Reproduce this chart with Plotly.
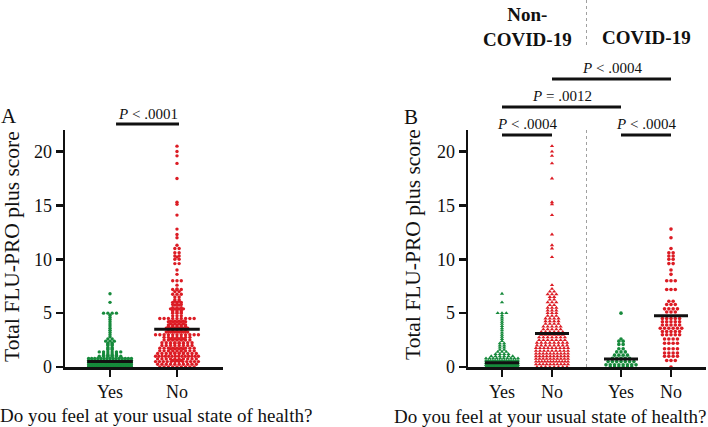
import numpy as np
import plotly.graph_objects as go

# ---------------- data ----------------
categories = ["Yes", "No", "Yes", "No"]
group_titles = ["Non-<br>COVID-19", "COVID-19"]
y_ticks = [0, 5, 10, 15, 20]

# Non-COVID-19, answered "Yes"
noncovid_yes_scores = [0.0, 0.2, 0.4, 0.6, 0.8, 1.0, 1.2, 1.4, 1.6, 1.8, 2.0, 2.2, 2.4, 2.6,
                       2.8, 3.0, 3.2, 3.4, 3.6, 3.8, 4.0, 4.2, 4.4, 4.6, 4.8, 5.0, 6.0, 6.8]
noncovid_yes_counts = [60, 40, 25, 15, 10, 6, 4, 3, 2, 2, 2, 2, 1, 1,
                       1, 1, 1, 1, 1, 1, 1, 1, 1, 1, 1, 3, 1, 1]

# Non-COVID-19, answered "No"
noncovid_no_scores = [0.0, 0.25, 0.5, 0.75, 1.0, 1.25, 1.5, 1.75, 2.0, 2.25, 2.5, 2.75, 3.0, 3.25,
                      3.5, 3.75, 4.0, 4.25, 4.5, 4.75, 5.0, 5.25, 5.5, 5.75, 6.0, 6.25, 6.5, 6.75,
                      7.0, 7.25, 7.6, 10.2, 11.0, 11.3, 12.3, 14.1, 15.1, 15.3, 17.5, 18.9, 19.6,
                      20.0, 20.5]
noncovid_no_counts = [8, 10, 12, 10, 10, 10, 9, 9, 8, 8, 7, 7, 6, 6,
                      5, 5, 4, 4, 4, 3, 3, 3, 3, 2, 3, 2, 2, 3,
                      2, 1, 1, 1, 1, 1, 1, 1, 1, 1, 1, 1, 1,
                      1, 1]

# COVID-19, answered "Yes"
covid_yes_scores = [0.0, 0.2, 0.5, 0.8, 1.1, 1.4, 1.7, 2.1, 2.4, 2.6, 5.0]
covid_yes_counts = [6, 8, 7, 5, 4, 3, 2, 2, 2, 1, 1]

# COVID-19, answered "No"
covid_no_scores = [0.0, 0.6, 1.0, 1.3, 1.7, 2.2, 2.6, 3.0, 3.3, 3.6, 3.9, 4.2, 4.5, 5.1,
                   5.4, 5.8, 6.1, 7.2, 8.0, 8.6, 9.0, 9.6, 10.0, 10.3, 10.6, 11.0, 12.0, 12.8]
covid_no_counts = [1, 3, 4, 4, 4, 4, 4, 5, 5, 6, 5, 5, 5, 3,
                   4, 3, 2, 3, 3, 1, 1, 2, 2, 2, 2, 1, 1, 1]

# medians (horizontal bars)
medians_A = [0.5, 3.5]
medians_B = [0.4, 3.1, 0.75, 4.75]

# significance comparisons in panel B: (from, to, label, level)
comparisons_B = [
    (0, 1, "<i>P</i> < .0004", 0),
    (2, 3, "<i>P</i> < .0004", 0),
    (0, 2, "<i>P</i> = .0012", 1),
    (1, 3, "<i>P</i> < .0004", 2),
]
comparison_A_label = "<i>P</i> < .0001"

# ---------------- styling ----------------
W, H = 708, 427
FONT = "Liberation Serif"
GREEN = "#178a3c"
RED = "#dc1c24"
INK = "#111111"

pos_A = [0.0, 1.0]
pos_B = [0.0, 1.0, 2.38, 3.38]


def merge(*groups):
    d = {}
    for sc, ct in groups:
        for v, n in zip(sc, ct):
            k = round(v, 3)
            d[k] = d.get(k, 0) + n
    keys = sorted(d)
    return keys, [d[k] for k in keys]


def swarm(scores, counts, step, cap):
    xs, ys = [], []
    for v, n in zip(scores, counts):
        s = step if n <= 1 else min(step, 2 * cap / (n - 1))
        for i in range(n):
            xs.append((i - (n - 1) / 2) * s)
            ys.append(v)
    return np.array(xs), np.array(ys)


fig = go.Figure()

# ---------- Panel A ----------
A_yes = merge((noncovid_yes_scores, noncovid_yes_counts), (covid_yes_scores, covid_yes_counts))
A_no = merge((noncovid_no_scores, noncovid_no_counts), (covid_no_scores, covid_no_counts))
stepA = 4.3 / 67.0
for grp, p, col in [(A_yes, pos_A[0], GREEN), (A_no, pos_A[1], RED)]:
    dx, yy = swarm(grp[0], grp[1], stepA, 0.32)
    fig.add_trace(go.Scatter(x=p + dx, y=yy, mode="markers", xaxis="x", yaxis="y",
                             marker=dict(color=col, size=3.4, line=dict(width=0)),
                             showlegend=False, hoverinfo="skip"))
for p, m in zip(pos_A, medians_A):
    fig.add_trace(go.Scatter(x=[p - 0.34, p + 0.34], y=[m, m], mode="lines", xaxis="x", yaxis="y",
                             line=dict(color=INK, width=3), showlegend=False, hoverinfo="skip"))

# ---------- Panel B ----------
stepB = 4.3 / 50.0
B_groups = [
    (noncovid_yes_scores, noncovid_yes_counts, GREEN, "triangle-up", 3.8),
    (noncovid_no_scores, noncovid_no_counts, RED, "triangle-up", 3.8),
    (covid_yes_scores, covid_yes_counts, GREEN, "circle", 3.6),
    (covid_no_scores, covid_no_counts, RED, "circle", 3.6),
]
for (sc, ct, col, sym, sz), p in zip(B_groups, pos_B):
    dx, yy = swarm(sc, ct, stepB, 0.32)
    fig.add_trace(go.Scatter(x=p + dx, y=yy, mode="markers", xaxis="x2", yaxis="y2",
                             marker=dict(color=col, size=sz, symbol=sym, line=dict(width=0)),
                             showlegend=False, hoverinfo="skip"))
for p, m in zip(pos_B, medians_B):
    fig.add_trace(go.Scatter(x=[p - 0.34, p + 0.34], y=[m, m], mode="lines", xaxis="x2", yaxis="y2",
                             line=dict(color=INK, width=3), showlegend=False, hoverinfo="skip"))

# ---------- axes ----------
def px_x(p):
    return p / W


def px_y(p):
    return 1 - p / H


axis_common = dict(showline=True, linecolor=INK, linewidth=2.5, ticks="outside", ticklen=7,
                   tickwidth=2.5, tickcolor=INK, showgrid=False, zeroline=False, automargin=False,
                   tickfont=dict(family=FONT, size=18, color=INK), fixedrange=True)

fig.update_layout(
    xaxis=dict(domain=[px_x(65), px_x(223)], range=[-0.672, 1.687], tickvals=pos_A,
               ticktext=categories[:2], anchor="y", **axis_common),
    yaxis=dict(domain=[1 - 367 / H, 1 - 130 / H], range=[0, 22], tickvals=y_ticks,
               anchor="x", **axis_common),
    xaxis2=dict(domain=[px_x(468), px_x(706)], range=[-0.68, 4.08], tickvals=pos_B,
                ticktext=categories, anchor="y2", **axis_common),
    yaxis2=dict(domain=[1 - 367 / H, 1 - 130 / H], range=[0, 22], tickvals=y_ticks,
                anchor="x2", **axis_common),
    width=W, height=H, margin=dict(l=0, r=0, t=0, b=0, pad=0), autosize=False,
    paper_bgcolor="white", plot_bgcolor="white", showlegend=False,
    font=dict(family=FONT, color=INK),
)

ann = []
shapes = []


def text_at(xv, yv, text, size, xref="paper", angle=0, bold=False):
    ann.append(dict(x=xv, y=yv, xref=xref, yref="paper", text=("<b>%s</b>" % text) if bold else text,
                    textangle=angle, showarrow=False, xanchor="center", yanchor="middle",
                    font=dict(family=FONT, size=size, color=INK)))


# axis titles
for xc, yc in [(12, 247), (413, 245)]:
    text_at(px_x(xc), px_y(yc), "Total FLU-PRO plus score", 21.5, angle=-90)
for xc, yc in [(156, 415), (550, 416)]:
    text_at(px_x(xc), px_y(yc), "Do you feel at your usual state of health?", 19)

# panel letters
text_at(px_x(9), px_y(116), "A", 21)
text_at(px_x(411), px_y(117), "B", 21)

# group headers
text_at((pos_B[0] + pos_B[1]) / 2, px_y(27), group_titles[0], 19, xref="x2", bold=True)
text_at((pos_B[2] + pos_B[3]) / 2, px_y(38), group_titles[1], 19, xref="x2", bold=True)

# dotted dividers
mid = (pos_B[1] + pos_B[2]) / 2
for y0, y1 in [(0, 48), (130, 367)]:
    shapes.append(dict(type="line", xref="x2", yref="paper", x0=mid, x1=mid, y0=px_y(y0), y1=px_y(y1),
                       line=dict(color="#a0a0a0", width=1, dash="dot")))

# significance bars
level_px = [135, 107, 79]
for i, j, lab, lev in comparisons_B:
    x0, x1 = pos_B[i], pos_B[j]
    yb = level_px[lev]
    shapes.append(dict(type="line", xref="x2", yref="paper", x0=x0, x1=x1, y0=px_y(yb), y1=px_y(yb),
                       line=dict(color=INK, width=3)))
    text_at((x0 + x1) / 2, px_y(yb - 11), lab, 15, xref="x2")

shapes.append(dict(type="line", xref="x", yref="paper", x0=0.09, x1=1.03, y0=px_y(124), y1=px_y(124),
                   line=dict(color=INK, width=3)))
text_at(0.56, px_y(114), comparison_A_label, 15, xref="x")

fig.update_layout(annotations=ann, shapes=shapes)
fig.write_html(
    "out.html",
    config={"displayModeBar": False, "staticPlot": True},
    post_script=("document.documentElement.style.overflow='hidden';"
                 "document.body.style.margin='0px';"
                 "document.body.style.overflow='hidden';"),
)
